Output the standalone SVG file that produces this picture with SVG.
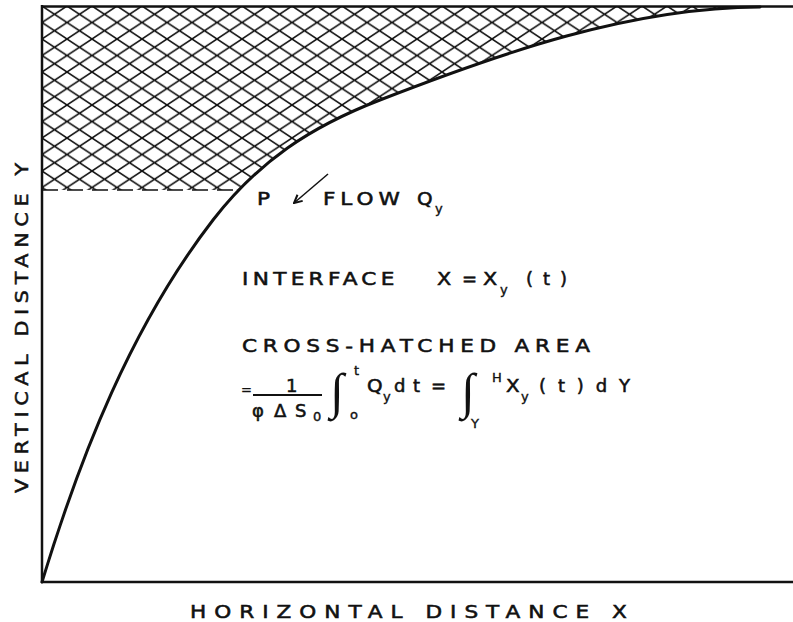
<svg xmlns="http://www.w3.org/2000/svg" width="793" height="622" viewBox="0 0 793 622">
<style>
  .t { font-family: "DejaVu Sans", "Liberation Sans", sans-serif; font-size: 18px; fill: #111; stroke: #111; stroke-width: 0.55; }
  .s { font-family: "DejaVu Sans", "Liberation Sans", sans-serif; font-size: 13px; fill: #111; stroke: #111; stroke-width: 0.4; }
  .int { font-family: "Liberation Serif", serif; font-style: italic; font-size: 50px; fill: #111; }
  .ax { stroke: #111; stroke-width: 2.5; fill: none; }
</style>
<defs>
  <pattern id="xh" patternUnits="userSpaceOnUse" width="25" height="16.5" x="42" y="6">
    <path d="M0,0 L25,16.5 M0,16.5 L25,0" stroke="#111" stroke-width="1.6" fill="none"/>
  </pattern>
  <clipPath id="hc">
    <path d="M42,4 L760,4 L760,7.5 C630,7.5 501,53 380,100 C310,127 259,161 213,220 L42,220 Z"/>
  </clipPath>
  <marker id="ah" markerWidth="10" markerHeight="10" refX="9" refY="5" orient="auto" markerUnits="userSpaceOnUse">
    <path d="M1,1 L9,5 L1,9" fill="none" stroke="#111" stroke-width="2"/>
  </marker>
</defs>
<rect width="793" height="622" fill="#fff"/>
<g id="hatch">
  <rect x="42" y="6" width="751" height="184" fill="url(#xh)" clip-path="url(#hc)"/>
  <line x1="42" y1="190" x2="238" y2="190" stroke="#111" stroke-width="1.5" stroke-dasharray="16 9"/>
</g>
<g id="axes">
  <line class="ax" x1="42" y1="5" x2="42" y2="583"/>
  <line class="ax" x1="41" y1="582" x2="793" y2="582"/>
  <line class="ax" x1="41" y1="6.5" x2="793" y2="6.5" stroke-width="3"/>
</g>
<g id="curve">
  <path d="M42,582 C81,454 132,325 213,220 C259,161 310,127 380,100 C501,53 630,7.5 760,7" fill="none" stroke="#111" stroke-width="3" stroke-linecap="round"/>
</g>
<g id="connectors">
  <line x1="328" y1="174" x2="294" y2="203" stroke="#111" stroke-width="1.5" marker-end="url(#ah)"/>
</g>
<g id="labels">
  <text class="t" transform="translate(257,205) scale(1.2,1)">P</text>
  <text class="t" transform="translate(323,205) scale(1.2,1)" textLength="64" lengthAdjust="spacing">FLOW</text>
  <text class="t" transform="translate(417,205) scale(1.1,1)">Q</text>
  <text class="s" x="435" y="213">y</text>

  <text class="t" transform="translate(242,285) scale(1.2,1)" textLength="127" lengthAdjust="spacing">INTERFACE</text>
  <text class="t" transform="translate(437,285) scale(1.15,1)">X</text>
  <text class="t" x="462" y="285">=</text>
  <text class="t" transform="translate(483,285) scale(1.15,1)">X</text>
  <text class="s" x="500" y="294">y</text>
  <text class="t" x="526" y="285" textLength="41" lengthAdjust="spacing">(t)</text>

  <text class="t" transform="translate(242,352) scale(1.2,1)" textLength="290" lengthAdjust="spacing">CROSS-HATCHED AREA</text>

  <text class="s" x="241" y="394" font-size="11">=</text>
  <text class="t" x="286" y="392">1</text>
  <line x1="253" y1="395" x2="322" y2="395" stroke="#111" stroke-width="2"/>
  <text class="t" x="252" y="417" font-size="20">φ</text>
  <text class="t" x="274" y="417" font-size="19">Δ</text>
  <text class="t" x="295" y="417" font-size="19">S</text>
  <text class="s" x="313" y="421">0</text>
  <text class="int" x="330" y="408">∫</text>
  <text class="s" x="354" y="375">t</text>
  <text class="s" x="350" y="419">o</text>
  <text class="t" transform="translate(367,392) scale(1.1,1)">Q</text>
  <text class="s" x="383" y="401">y</text>
  <text class="t" x="394" y="392" textLength="26" lengthAdjust="spacing">dt</text>
  <text class="t" x="431" y="392">=</text>
  <text class="int" x="461" y="408">∫</text>
  <text class="s" x="492" y="382" font-size="15">H</text>
  <text class="s" x="471" y="428">Y</text>
  <text class="t" transform="translate(506,392) scale(1.1,1)">X</text>
  <text class="s" x="521" y="401">y</text>
  <text class="t" x="539" y="392" textLength="91" lengthAdjust="spacing">(t)dY</text>

  <text class="t" transform="translate(190,618) scale(1.2,1)" font-size="16" textLength="364" lengthAdjust="spacing">HORIZONTAL DISTANCE X</text>
  <text class="t" transform="translate(28,493) rotate(-90) scale(1.15,1)" font-size="17" textLength="287" lengthAdjust="spacing">VERTICAL DISTANCE Y</text>
</g>
</svg>
